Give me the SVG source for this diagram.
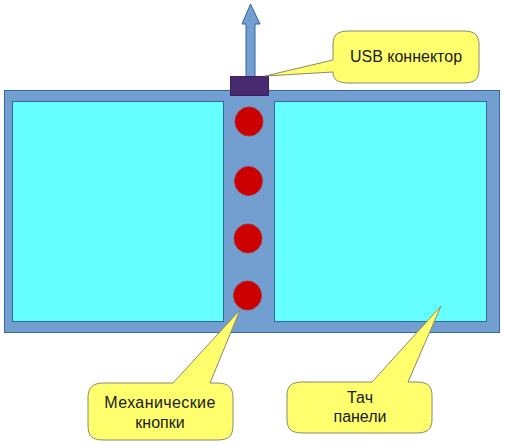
<svg xmlns="http://www.w3.org/2000/svg" width="506" height="445" viewBox="0 0 506 445">
<style>
.frame{fill:#729fcf;stroke:#3465a4;stroke-width:1}
.panel{fill:#66ffff;stroke:#3465a4;stroke-width:1}
.btn{fill:#cc0000;stroke:#a33;stroke-width:1}
.usb{fill:#48286f;stroke:#3a2060;stroke-width:1}
.arrow{fill:#729fcf;stroke:#3465a4;stroke-width:1}
.callout{fill:#ffff6d;stroke:#8a8a6a;stroke-width:1}
.lbl{font-family:"Liberation Sans",Arial,sans-serif;font-size:16px;fill:#1a1a1a;text-anchor:middle}
</style>
<rect width="506" height="445" fill="#ffffff"/>
<g id="device">
<rect class="frame" x="4.5" y="90.5" width="495" height="242"/>
<rect class="panel" x="12.5" y="101.5" width="211" height="220"/>
<rect class="panel" x="274.5" y="101.5" width="212" height="220"/>
</g>
<g id="arrow-up">
<path class="arrow" d="M246,77 V24 H242 L250.5,4 L260,24 H255 V77 Z"/>
</g>
<g id="usb-port">
<rect class="usb" x="230.5" y="76.5" width="38" height="19"/>
</g>
<g id="buttons">
<ellipse class="btn" cx="249" cy="121.5" rx="14" ry="14.5"/>
<ellipse class="btn" cx="248.5" cy="181" rx="14" ry="14.5"/>
<ellipse class="btn" cx="248" cy="238.5" rx="14" ry="14.5"/>
<ellipse class="btn" cx="247.5" cy="295.5" rx="14" ry="14.5"/>
</g>
<g id="connectors">
<g id="callout-usb">
<path class="callout" d="M349,31 H463 C475,31 479,35 479,45 V69 C479,79 475,83 463,83 H349 C337,83 333,79 333,72 L265,76 L333,60 V45 C333,35 337,31 349,31 Z"/>
<text class="lbl" x="406" y="62">USB коннектор</text>
</g>
<g id="callout-buttons">
<path class="callout" d="M104,383 H173 L240,310 L210,383 H217 C229,383 233,388 233,398 V425 C233,436 229,440 217,440 H104 C92,440 88,436 88,425 V398 C88,388 92,383 104,383 Z"/>
<text class="lbl" x="160" y="408" letter-spacing="0.4">Механические</text>
<text class="lbl" x="160" y="428">кнопки</text>
</g>
<g id="callout-touch">
<path class="callout" d="M303,382 H372 L441,306 L408,382 H416 C428,382 432,386 432,396 V419 C432,429 428,433 416,433 H303 C291,433 287,429 287,419 V396 C287,386 291,382 303,382 Z"/>
<text class="lbl" x="360" y="403">Тач</text>
<text class="lbl" x="360" y="422">панели</text>
</g>
</g>
</svg>
